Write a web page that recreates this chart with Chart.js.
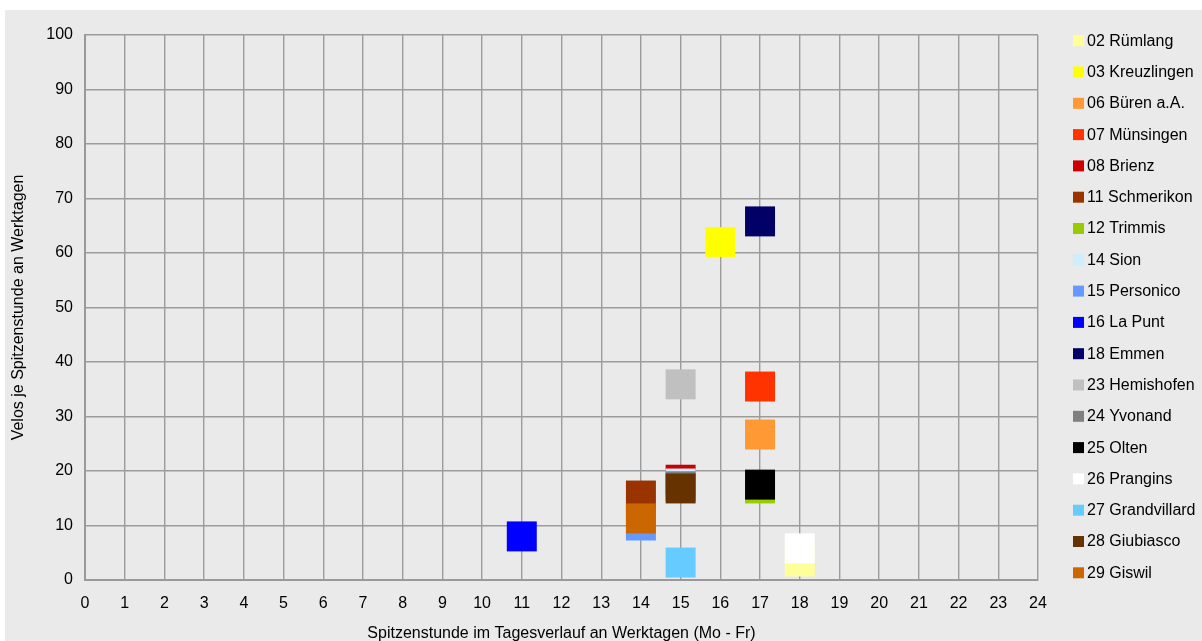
<!DOCTYPE html>
<html>
<head>
<meta charset="utf-8">
<script src="https://cdn.jsdelivr.net/npm/chart.js@4/dist/chart.umd.min.js"></script>
<style>
  html, body { margin: 0; padding: 0; background: #ffffff; }
  #wrap { position: absolute; left: 5px; top: 10px; width: 1197px; height: 631px; background: #eaeaea; }
</style>
</head>
<body>
<div id="wrap"><canvas id="peakChart"></canvas></div>
<script>
// Zählstellen (Reihenfolge wie in der Legende)
const stations = [
    '02 Rümlang', '03 Kreuzlingen', '06 Büren a.A.', '07 Münsingen', '08 Brienz',
    '11 Schmerikon', '12 Trimmis', '14 Sion', '15 Personico', '16 La Punt',
    '18 Emmen', '23 Hemishofen', '24 Yvonand', '25 Olten', '26 Prangins',
    '27 Grandvillard', '28 Giubiasco', '29 Giswil'
];
// Spitzenstunde (Uhr)
const peakHour = [18, 16, 17, 17, 15, 14, 17, 15, 14, 11, 17, 15, 15, 17, 18, 15, 15, 14];
// Velos je Spitzenstunde
const velosPerPeak = [3.4, 62, 26.7, 35.5, 18.4, 15.5, 16.8, 17.7, 10, 8, 65.8, 35.9, 17.2, 17.5, 5.8, 3.2, 16.8, 11.3];

const xTicks = { min: 0, max: 24, step: 1 };
const yTicks = { min: 0, max: 100, step: 10 };

const colors = [
    '#ffff99', '#ffff00', '#ff9933', '#ff3300', '#cc0000',
    '#993300', '#99cc00', '#cceeff', '#6699ff', '#0000ff',
    '#000066', '#c0c0c0', '#808080', '#000000', '#ffffff',
    '#66ccff', '#663300', '#cc6600'
];

const FONT = 'Liberation Sans, Arial, sans-serif';

// spätere Reihen liegen oben (wie in Excel)
const datasets = stations.map((name, i) => ({
    label: name,
    data: [{ x: peakHour[i], y: velosPerPeak[i] }],
    order: -i,
    pointStyle: 'rect',
    pointRadius: 21.2,
    pointHoverRadius: 21.2,
    pointBorderWidth: 0,
    backgroundColor: colors[i],
    borderColor: colors[i]
}));

// Legende rechts, Excel-artig
const sideLegend = {
    id: 'sideLegend',
    afterDraw(chart) {
        const ctx = chart.ctx;
        ctx.save();
        ctx.font = '16px ' + FONT;
        ctx.textBaseline = 'middle';
        ctx.textAlign = 'left';
        stations.forEach((name, i) => {
            const y = 30.7 + i * 31.3;
            ctx.fillStyle = colors[i];
            ctx.fillRect(1068, y - 5.5, 11, 11);
            ctx.fillStyle = '#000000';
            ctx.fillText(name, 1082, y + 0.5);
        });
        ctx.restore();
    }
};

new Chart(document.getElementById('peakChart'), {
    type: 'scatter',
    data: { datasets },
    options: {
        responsive: true,
        maintainAspectRatio: false,
        animation: false,
        events: [],
        layout: { padding: { left: 0, top: 25, right: 164, bottom: 0 } },
        plugins: {
            legend: { display: false },
            tooltip: { enabled: false }
        },
        scales: {
            x: {
                type: 'linear',
                min: xTicks.min,
                max: xTicks.max,
                afterFit(scale) { scale.height = 61; },
                ticks: {
                    stepSize: xTicks.step,
                    padding: 14,
                    color: '#000000',
                    font: { family: FONT, size: 16 }
                },
                grid: { color: '#9c9c9c', lineWidth: 1.4, drawTicks: false },
                border: { color: '#999999', width: 2 },
                title: {
                    display: true,
                    text: 'Spitzenstunde im Tagesverlauf an Werktagen (Mo - Fr)',
                    color: '#000000',
                    font: { family: FONT, size: 16 },
                    padding: { top: 0, bottom: -2 }
                }
            },
            y: {
                type: 'linear',
                min: yTicks.min,
                max: yTicks.max,
                afterFit(scale) { scale.width = 80; },
                ticks: {
                    stepSize: yTicks.step,
                    padding: 12,
                    color: '#000000',
                    font: { family: FONT, size: 16 }
                },
                grid: { color: '#9c9c9c', lineWidth: 1.4, drawTicks: false },
                border: { color: '#999999', width: 2 },
                title: {
                    display: true,
                    text: 'Velos je Spitzenstunde an Werktagen',
                    color: '#000000',
                    font: { family: FONT, size: 16 },
                    padding: { top: 4, bottom: 0 }
                }
            }
        }
    },
    plugins: [sideLegend]
});
</script>
</body>
</html>
